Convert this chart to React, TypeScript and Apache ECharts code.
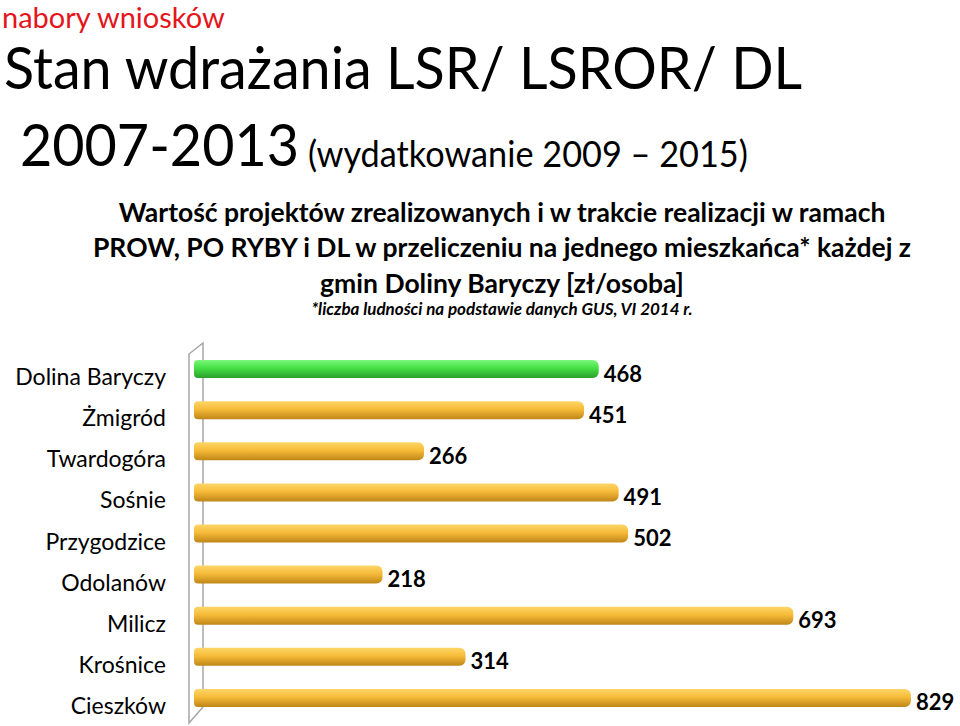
import React, { useEffect, useRef } from "react";
import * as echarts from "echarts";

const categories = [
  "Dolina Baryczy",
  "Żmigród",
  "Twardogóra",
  "Sośnie",
  "Przygodzice",
  "Odolanów",
  "Milicz",
  "Krośnice",
  "Cieszków",
];
const values = [468, 451, 266, 491, 502, 218, 693, 314, 829];
const highlightCategory = "Dolina Baryczy";

const FONT = "Lato, 'Open Sans', sans-serif";

export default function App() {
  const ref = useRef<HTMLDivElement>(null);
  useEffect(() => {
    if (!ref.current) return;
    const chart = echarts.init(ref.current, null, { renderer: "svg" });
    const green = new echarts.graphic.LinearGradient(0, 0, 0, 1, [
      { offset: 0, color: "#7af77a" },
      { offset: 0.45, color: "#45e045" },
      { offset: 1, color: "#2b9e2b" },
    ]);
    const orange = new echarts.graphic.LinearGradient(0, 0, 0, 1, [
      { offset: 0, color: "#fdd668" },
      { offset: 0.45, color: "#f6bb38" },
      { offset: 1, color: "#bf8618" },
    ]);
    const data = values.map((v, i) => ({
      value: v,
      itemStyle: { color: categories[i] === highlightCategory ? green : orange },
    }));
    chart.setOption({
      animation: false,
      backgroundColor: "#ffffff",
      grid: { left: 194, right: 24, top: 348.5, bottom: 7.5, containLabel: false },
      xAxis: {
        type: "value",
        min: 0,
        max: 858,
        show: false,
      },
      yAxis: {
        type: "category",
        data: categories,
        inverse: true,
        axisLine: { show: false },
        axisTick: { show: false },
        axisLabel: {
          margin: 28,
          color: "#000",
          fontFamily: FONT,
          fontSize: 23,
          verticalAlign: "top",
          lineHeight: 14,
        },
      },
      series: [
        {
          type: "bar",
          data,
          barWidth: 18,
          itemStyle: { borderRadius: [4, 6, 6, 4] },
          label: {
            show: true,
            position: "right",
            distance: 5,
            color: "#000",
            fontFamily: FONT,
            fontWeight: "bold",
            fontSize: 22,
            verticalAlign: "top",
            lineHeight: 8,
          },
        },
      ],
      graphic: [
        {
          type: "polygon",
          shape: { points: [[189, 354], [203, 343], [203, 707], [189, 723]] },
          style: { fill: "none", stroke: "#a6a6a6", lineWidth: 1.5 },
          z: -1,
        },
        {
          type: "text",
          x: 2,
          y: 16,
          style: { text: "nabory wniosków", fill: "#e3161c", font: `29px ${FONT}`, verticalAlign: "middle" },
        },
        {
          type: "text",
          x: 4,
          y: 38,
          scaleX: 0.96,
          style: { text: "Stan wdrażania LSR/ LSROR/ DL", fill: "#000", font: `58px ${FONT}`, verticalAlign: "top" },
        },
        {
          type: "text",
          x: 20,
          y: 115,
          scaleX: 0.96,
          style: { text: "2007-2013", fill: "#000", font: `58px ${FONT}`, verticalAlign: "top" },
        },
        {
          type: "text",
          x: 308,
          y: 135,
          scaleX: 0.952,
          style: { text: "(wydatkowanie 2009 – 2015)", fill: "#000", font: `36px ${FONT}`, verticalAlign: "top" },
        },
        {
          type: "text",
          x: 502,
          y: 212,
          style: { text: "Wartość projektów zrealizowanych i w trakcie realizacji w ramach", fill: "#000", font: `bold 26.5px ${FONT}`, align: "center", verticalAlign: "middle" },
        },
        {
          type: "text",
          x: 502,
          y: 247,
          style: { text: "PROW, PO RYBY i DL w przeliczeniu na jednego mieszkańca* każdej z", fill: "#000", font: `bold 26.5px ${FONT}`, align: "center", verticalAlign: "middle" },
        },
        {
          type: "text",
          x: 502,
          y: 283,
          style: { text: "gmin Doliny Baryczy [zł/osoba]", fill: "#000", font: `bold 26.5px ${FONT}`, align: "center", verticalAlign: "middle" },
        },
        {
          type: "text",
          x: 502,
          y: 308,
          style: { text: "*liczba ludności na podstawie danych GUS, VI 2014 r.", fill: "#000", font: `italic bold 17px ${FONT}`, align: "center", verticalAlign: "middle" },
        },
      ],
    });
    return () => chart.dispose();
  }, []);
  return (
    <div
      ref={ref}
      style={{ position: "fixed", left: 0, top: 0, width: 960, height: 726, background: "#fff" }}
    />
  );
}
